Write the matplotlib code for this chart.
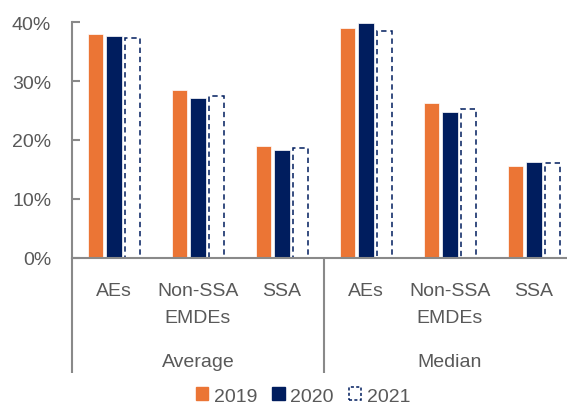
import numpy as np
import matplotlib
matplotlib.use('Agg')
import matplotlib.pyplot as plt
import matplotlib.patches as mpatches

plt.rcParams['font.family'] = ['Liberation Sans', 'DejaVu Sans']

# ---------------------------------------------------------------------------
# Data (percent)
# ---------------------------------------------------------------------------
categories = ['AEs', 'Non-SSA\nEMDEs', 'SSA', 'AEs', 'Non-SSA\nEMDEs', 'SSA']
groups = ['Average', 'Median']
years = ['2019', '2020', '2021']
v2019 = [38.0, 28.5, 18.9, 39.1, 26.2, 15.6]
v2020 = [37.6, 27.2, 18.2, 39.8, 24.7, 16.3]
v2021 = [37.3, 27.5, 18.6, 38.6, 25.3, 16.0]

ORANGE = '#EB7535'
NAVY = '#001D5E'
GREY = '#898989'
TEXT = '#595959'
FS = 14

W, H = 567, 406
fig = plt.figure(figsize=(W / 100, H / 100), dpi=100)
# axis line at y=258.5 px, 40% at y=23.3 px; categories 84 px wide from x=72
ax = fig.add_axes([72 / W, (H - 258.5) / H, 504 / W, 235.2 / H])

x = np.arange(len(categories))
bw, step = 0.18, 0.22
ax.bar(x - step, v2019, bw, color=ORANGE, edgecolor='white', linewidth=0.5, zorder=2)
ax.bar(x, v2020, bw, color=NAVY, edgecolor='white', linewidth=0.5, zorder=2)
ax.bar(x + step, v2021, bw, facecolor='white', edgecolor=NAVY,
       linewidth=1.1, linestyle=(0, (3.5, 2.5)), zorder=2)

ax.set_xlim(-0.5, 5.5)
ax.set_ylim(0, 40)
ax.set_yticks([0, 10, 20, 30, 40])
ax.set_yticklabels([f'{v}%' for v in range(0, 41, 10)])
ax.tick_params(axis='y', direction='in', length=5.5, width=1.5, color=GREY,
               labelcolor=TEXT, labelsize=FS, pad=15)
ax.set_xticks([])

for s in ('top', 'right'):
    ax.spines[s].set_visible(False)
for s in ('left', 'bottom'):
    ax.spines[s].set_color(GREY)
    ax.spines[s].set_linewidth(1.5)

# --- two-level category axis below the plot ---
px = 235.2  # axes height in pixels
xt = ax.get_xaxis_transform()
for xv in (-0.5, 2.5):
    ax.plot([xv, xv], [0, -(374 - 258.5) / px], transform=xt, color=GREY,
            lw=1.5, clip_on=False, solid_capstyle='butt')

line_base = [296, 323]
for i, lab in enumerate(categories):
    for j, part in enumerate(lab.split('\n')):
        ax.text(i, -(line_base[j] - 258.5) / px, part, transform=xt,
                ha='center', va='baseline', fontsize=FS, color=TEXT)
for g, name in enumerate(groups):
    ax.text(3 * g + 1, -(367 - 258.5) / px, name, transform=xt,
            ha='center', va='baseline', fontsize=FS, color=TEXT)

# --- legend ---
handles = [
    mpatches.Patch(facecolor=ORANGE, edgecolor=ORANGE, label=years[0]),
    mpatches.Patch(facecolor=NAVY, edgecolor=NAVY, label=years[1]),
    mpatches.Patch(facecolor='white', edgecolor=NAVY, linestyle=(0, (2, 1.5)),
                   linewidth=1.1, label=years[2]),
]
leg = fig.legend(handles=handles, loc='center', bbox_to_anchor=(303 / W, (H - 397) / H),
                 ncol=3, frameon=False, fontsize=FS, handlelength=0.65,
                 handleheight=0.65, handletextpad=0.3, columnspacing=0.75,
                 borderpad=0, borderaxespad=0)
for t in leg.get_texts():
    t.set_color(TEXT)

fig.savefig('out.png', dpi=100)
